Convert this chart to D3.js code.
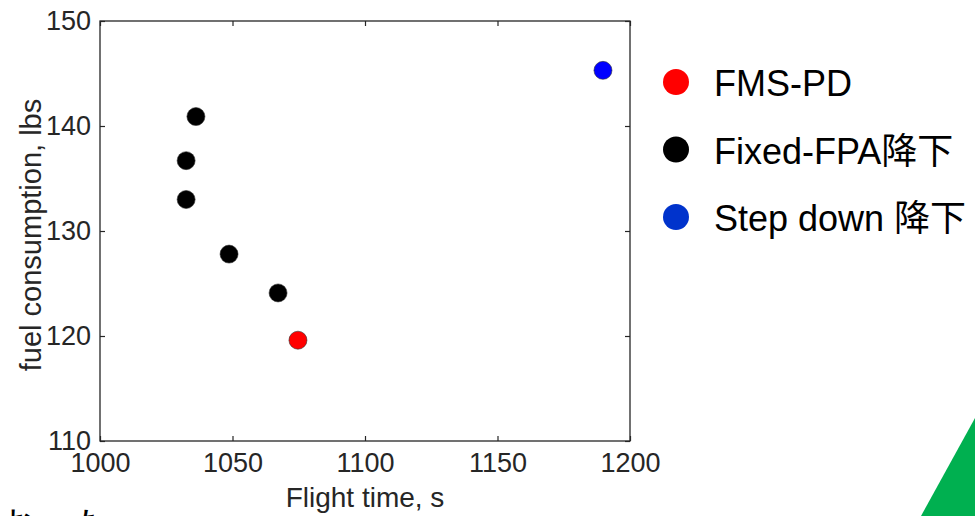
<!DOCTYPE html>
<html>
<head>
<meta charset="utf-8">
<script src="https://cdn.jsdelivr.net/npm/d3@7"></script>
<style>
  body { margin: 0; background: #fff; overflow: hidden; }
  svg { display: block; font-family: "Liberation Sans", Arial, "Noto Sans CJK JP", sans-serif; }
</style>
</head>
<body>
<div id="chart"></div>
<script>
const FRAME_WIDTH = 975;
const FRAME_HEIGHT = 516;
const MARGINS = {left: 100, right: 345, top: 21, bottom: 75};
const VIS_WIDTH = FRAME_WIDTH - MARGINS.left - MARGINS.right;
const VIS_HEIGHT = FRAME_HEIGHT - MARGINS.top - MARGINS.bottom;

// data
const fmsTime = [1074.7];
const fmsFuel = [119.6];
const fixedTime = [1036.2, 1032.5, 1032.5, 1048.7, 1067.2];
const fixedFuel = [140.9, 136.7, 133.0, 127.8, 124.1];
const stepTime = [1189.8];
const stepFuel = [145.3];

const xTicks = [1000, 1050, 1100, 1150, 1200];
const yTicks = [110, 120, 130, 140, 150];
const legendNames = ["FMS-PD", "Fixed-FPA降下", "Step down 降下"];
const legendColors = ["#ff0000", "#000000", "#0033cc"];

const AXIS_COLOR = "#262626";

const FRAME = d3.select("#chart")
  .append("svg")
    .attr("width", FRAME_WIDTH)
    .attr("height", FRAME_HEIGHT);

const X_SCALE = d3.scaleLinear().domain([1000, 1200]).range([0, VIS_WIDTH]);
const Y_SCALE = d3.scaleLinear().domain([110, 150]).range([VIS_HEIGHT, 0]);

const plot = FRAME.append("g")
  .attr("transform", "translate(" + MARGINS.left + "," + MARGINS.top + ")");

// box
plot.append("rect")
  .attr("width", VIS_WIDTH)
  .attr("height", VIS_HEIGHT)
  .attr("fill", "none")
  .attr("stroke", AXIS_COLOR)
  .attr("stroke-width", 1.3);

function styleAxis(g) {
  g.select(".domain").remove();
  g.selectAll(".tick line").attr("stroke", AXIS_COLOR).attr("stroke-width", 1.2);
  g.selectAll(".tick text").attr("fill", AXIS_COLOR);
}

// bottom / left axes with inward ticks
plot.append("g")
  .attr("transform", "translate(0," + VIS_HEIGHT + ")")
  .call(d3.axisBottom(X_SCALE).tickValues(xTicks).tickFormat(d3.format("d"))
        .tickSizeInner(-5).tickSizeOuter(0).tickPadding(12))
  .attr("font-size", "27px")
  .attr("font-family", null)
  .call(styleAxis);

plot.append("g")
  .call(d3.axisLeft(Y_SCALE).tickValues(yTicks).tickFormat(d3.format("d"))
        .tickSizeInner(-5).tickSizeOuter(0).tickPadding(9))
  .attr("font-size", "27px")
  .attr("font-family", null)
  .call(styleAxis);

// mirrored ticks on top / right
plot.append("g")
  .call(d3.axisTop(X_SCALE).tickValues(xTicks).tickFormat("")
        .tickSizeInner(-5).tickSizeOuter(0))
  .call(styleAxis);

plot.append("g")
  .attr("transform", "translate(" + VIS_WIDTH + ",0)")
  .call(d3.axisRight(Y_SCALE).tickValues(yTicks).tickFormat("")
        .tickSizeInner(-5).tickSizeOuter(0))
  .call(styleAxis);

// axis labels
FRAME.append("text")
  .attr("x", MARGINS.left + VIS_WIDTH / 2)
  .attr("y", 507)
  .attr("text-anchor", "middle")
  .attr("font-size", "28px")
  .attr("fill", AXIS_COLOR)
  .text("Flight time, s");

FRAME.append("text")
  .attr("transform", "translate(41," + (MARGINS.top + VIS_HEIGHT / 2 + 4) + ") rotate(-90)")
  .attr("text-anchor", "middle")
  .attr("font-size", "29px")
  .attr("fill", AXIS_COLOR)
  .text("fuel consumption, lbs");

// points
function addPoints(xs, ys, color) {
  plot.selectAll(null)
    .data(xs.map((x, i) => ({x: x, y: ys[i]})))
    .enter()
    .append("circle")
      .attr("cx", d => X_SCALE(d.x))
      .attr("cy", d => Y_SCALE(d.y))
      .attr("r", 9)
      .attr("fill", color)
      .attr("stroke", "#333")
      .attr("stroke-width", 0.6);
}
addPoints(fixedTime, fixedFuel, "#000000");
addPoints(fmsTime, fmsFuel, "#ff0000");
addPoints(stepTime, stepFuel, "#0000ff");

// legend (slide text beside the plot)
const legend = FRAME.append("g").attr("transform", "translate(676,82)");
legend.selectAll("circle")
  .data(legendNames)
  .enter()
  .append("circle")
    .attr("cx", 0)
    .attr("cy", (d, i) => i * 67.5)
    .attr("r", 13)
    .attr("fill", (d, i) => legendColors[i]);
legend.selectAll("text")
  .data(legendNames)
  .enter()
  .append("text")
    .attr("x", 38)
    .attr("y", (d, i) => i * 67.5 + 14)
    .attr("font-size", "36px")
    .attr("fill", "#000")
    .text(d => d);

// slide decorations that peek into the frame
FRAME.append("polygon")
  .attr("points", "975,418 921,516 975,516")
  .attr("fill", "#00b050");

FRAME.append("text")
  .attr("x", 0)
  .attr("y", 539)
  .attr("font-size", "36px")
  .attr("fill", "#000")
  .text("お\u3000た");
</script>
</body>
</html>
